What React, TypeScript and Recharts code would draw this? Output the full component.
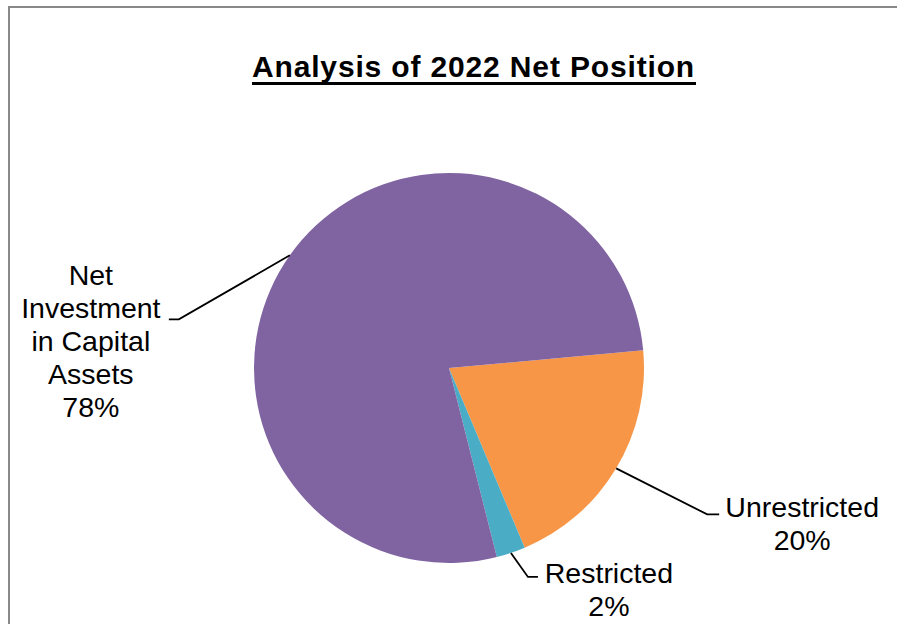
import { PieChart, Pie, Cell } from 'recharts'

const categories = ['Unrestricted', 'Restricted', 'Net Investment in Capital Assets']
const values = [20.1, 2.4, 77.5]
const labelLines = [['Unrestricted'], ['Restricted'], ['Net', 'Investment', 'in Capital', 'Assets']]
const colors = ['#F79646', '#4BACC6', '#8064A2']

const data = categories.map((name, i) => ({ name, value: values[i] }))

// leader line / label placement, relative to the slice edge point
const labelLayout = [
  { dx: 91, dy: 46, hx: 12, tx: 83, ty: 3 },
  { dx: 17, dy: 24, hx: 10, tx: 71, ty: 6 },
  { dx: -111, dy: 64, hx: -10, tx: -78, ty: -34 },
]

const font = '"Liberation Sans", Arial, sans-serif'
const RAD = Math.PI / 180

const renderLabel = (props: any) => {
  const { cx, cy, midAngle, outerRadius, percent, index } = props
  const sx = cx + outerRadius * Math.cos(-midAngle * RAD)
  const sy = cy + outerRadius * Math.sin(-midAngle * RAD)
  const lay = labelLayout[index]
  const ex = sx + lay.dx
  const ey = sy + lay.dy
  const hx = ex + lay.hx
  const tx = hx + lay.tx
  const lines = [...labelLines[index], `${Math.round(percent * 100)}%`]
  return (
    <g key={`lbl-${index}`}>
      <polyline points={`${sx},${sy} ${ex},${ey} ${hx},${ey}`} fill="none" stroke="#000" strokeWidth={1.8} />
      <text textAnchor="middle" fontSize={28.5} fontFamily={font} fill="#000">
        {lines.map((l, i) => (
          <tspan key={i} x={tx} y={ey + lay.ty + i * 33}>{l}</tspan>
        ))}
      </text>
    </g>
  )
}

export default function App() {
  return (
    <div style={{ position: 'fixed', left: 0, top: 0, width: 897, height: 624, overflow: 'hidden', background: '#fff' }}>
      <div style={{ position: 'absolute', left: 8, top: 6, width: 960, height: 700, border: '2px solid #888', boxSizing: 'border-box' }} />
      <div style={{ position: 'absolute', left: 0, top: 0 }}>
        <PieChart width={897} height={624} margin={{ top: 0, right: 0, bottom: 0, left: 0 }}>
          <Pie
            data={data}
            dataKey="value"
            nameKey="name"
            cx={449}
            cy={368}
            outerRadius={195}
            startAngle={5.2}
            endAngle={-354.8}
            stroke="none"
            label={renderLabel}
            labelLine={false}
            isAnimationActive={false}
          >
            {data.map((d, i) => (
              <Cell key={d.name} fill={colors[i]} />
            ))}
          </Pie>
        </PieChart>
      </div>
      <svg width={897} height={120} style={{ position: 'absolute', left: 0, top: 0 }}>
        <text x={473.5} y={77} textAnchor="middle" fontSize={30} fontWeight="bold" fontFamily={font}
          letterSpacing={0.85} fill="#000">
          Analysis of 2022 Net Position
        </text>
        <line x1={252} x2={696} y1={83.5} y2={83.5} stroke="#000" strokeWidth={3} />
      </svg>
    </div>
  )
}
